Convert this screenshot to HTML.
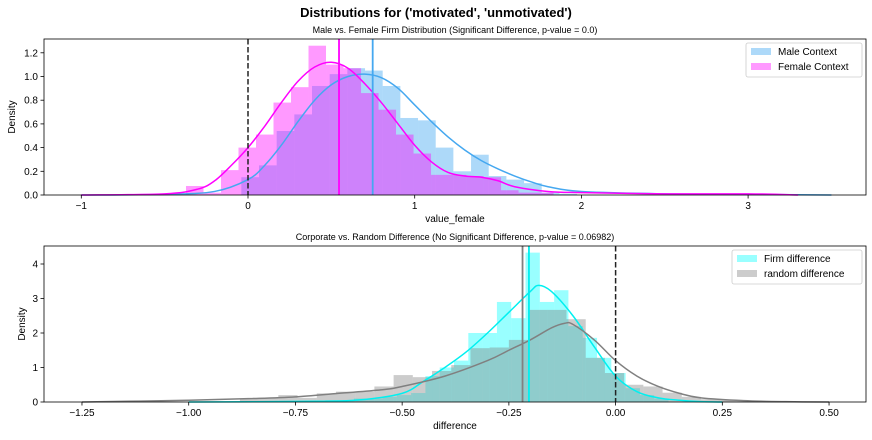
<!DOCTYPE html>
<html><head><meta charset="utf-8"><style>
body{margin:0;background:#fff;}
svg{display:block;font-family:"Liberation Sans","DejaVu Sans",sans-serif;}
</style></head><body>
<svg id="c" width="872" height="440" viewBox="0 0 872 440">
<text x="436" y="17" text-anchor="middle" font-size="13" font-weight="bold">Distributions for ('motivated', 'unmotivated')</text>
<text x="455" y="33" text-anchor="middle" font-size="9">Male vs. Female Firm Distribution (Significant Difference, p-value = 0.0)</text>
<text x="455" y="240" text-anchor="middle" font-size="9">Corporate vs. Random Difference (No Significant Difference, p-value = 0.06982)</text>
<g id="top"></g>
<g id="bot"></g>
</svg>
<script>
// ---- top chart data ----
const maleStart = -0.04, maleW = 0.106;
const maleBins = [0.15,0.25,0.54,0.68,0.92,1.02,1.07,1.05,0.92,0.65,0.63,0.40,0.20,0.34,0.16,0.13,0.10,0.02,0.01];
const femStart = -0.372, femW = 0.105;
const femBins = [0.076,0.02,0.21,0.40,0.51,0.78,0.91,1.26,1.10,1.07,0.86,0.72,0.51,0.35,0.17,0.17,0.16,0.15,0.04,0.02,0.02];
const maleKdeX = [-1,-0.5,-0.2,0,0.1,0.2,0.3,0.4,0.5,0.6,0.7,0.8,0.9,1.0,1.1,1.2,1.3,1.4,1.5,1.6,1.7,1.8,2.0,2.5,3.0,3.5];
const maleKdeY = [0,0.005,0.03,0.13,0.25,0.42,0.62,0.80,0.93,1.00,1.02,0.99,0.90,0.76,0.62,0.49,0.38,0.29,0.22,0.16,0.11,0.07,0.03,0.01,0.005,0];
const femKdeX = [-1,-0.5,-0.3,-0.2,-0.1,0,0.1,0.2,0.3,0.4,0.5,0.6,0.7,0.8,0.9,1.0,1.1,1.2,1.3,1.4,1.5,1.6,1.8,2.0,2.5,3.0,3.3];
const femKdeY = [0,0.01,0.05,0.12,0.25,0.40,0.58,0.78,0.96,1.08,1.12,1.07,0.94,0.78,0.60,0.42,0.28,0.19,0.16,0.15,0.12,0.07,0.03,0.02,0.01,0.01,0];
const maleMean = 0.748, femMean = 0.546;
const topXTicks = [-1,0,1,2,3];
const topYTicks = [0,0.2,0.4,0.6,0.8,1.0,1.2];
// ---- bottom chart data ----
const firmStart = -0.68, firmW = 0.0335;
const firmBins = [0.05,0.05,0.1,0.1,0.15,0.2,0.26,0.75,1.0,1.2,2.0,2.0,2.9,2.43,4.33,2.9,3.24,2.2,1.86,1.28,0.84,0.4,0.2,0.1];
const randStart = -0.88, randW = 0.045;
const randBins = [0.1,0.12,0.2,0.12,0.25,0.3,0.3,0.45,0.78,0.72,0.9,1.07,1.56,1.58,1.8,2.67,2.67,2.4,1.28,0.84,0.5,0.45,0.27,0.15,0.08,0.05,0.04];
const firmKdeX = [-1.0,-0.7,-0.6,-0.5,-0.45,-0.4,-0.35,-0.3,-0.25,-0.2,-0.18,-0.15,-0.1,-0.05,0,0.05,0.1,0.15,0.2,0.25];
const firmKdeY = [0,0.02,0.06,0.25,0.6,1.0,1.45,2.0,2.6,3.2,3.38,3.2,2.5,1.6,0.75,0.3,0.12,0.05,0.01,0];
const randKdeX = [-1.25,-1.0,-0.85,-0.75,-0.65,-0.55,-0.5,-0.4,-0.3,-0.25,-0.2,-0.15,-0.12,-0.1,-0.05,0,0.05,0.1,0.15,0.2,0.3,0.4,0.5];
const randKdeY = [0,0.05,0.1,0.15,0.25,0.35,0.45,0.75,1.2,1.5,1.8,2.15,2.28,2.25,1.8,1.2,0.75,0.45,0.25,0.12,0.04,0.01,0];
const firmMean = -0.203, randMean = -0.218;
const botXTicks = [-1.25,-1.0,-0.75,-0.5,-0.25,0,0.25,0.5];
const botYTicks = [0,1,2,3,4];

const NS="http://www.w3.org/2000/svg";
function mk(parent,tag,attrs){const e=document.createElementNS(NS,tag);for(const k in attrs)e.setAttribute(k,attrs[k]);parent.appendChild(e);return e;}
function fmt(v,d){const s=Math.abs(v).toFixed(d);return (v<0?"\u2212":"")+s;}
function smooth(pts){
  let d='M'+pts[0][0]+','+pts[0][1];
  for(let i=0;i<pts.length-1;i++){
    const p0=pts[Math.max(0,i-1)],p1=pts[i],p2=pts[i+1],p3=pts[Math.min(pts.length-1,i+2)];
    const c1x=p1[0]+(p2[0]-p0[0])/6,c1y=p1[1]+(p2[1]-p0[1])/6;
    const c2x=p2[0]-(p3[0]-p1[0])/6,c2y=p2[1]-(p3[1]-p1[1])/6;
    d+=` C${c1x},${c1y} ${c2x},${c2y} ${p2[0]},${p2[1]}`;
  }
  return d;
}

function panel(g,cfg){
  const L=44,R=866,T=cfg.top,B=cfg.bottom;
  const sx=v=>cfg.x0px+(v-cfg.x0)*cfg.kx;
  const sy=v=>B-v*cfg.ky;
  function hist(start,w,bins,fill,name){
    bins.forEach((v,i)=>{
      const r=mk(g,'rect',{x:sx(start+i*w),y:sy(v),width:w*cfg.kx,height:v*cfg.ky,fill:fill,'fill-opacity':0.4});
      
      
    });
  }
  function kde(xs,ys,col,name){
    const p=mk(g,'path',{d:smooth(xs.map((x,i)=>[sx(x),sy(ys[i])])),fill:'none',stroke:col,'stroke-width':1.5});
    
    
  }
  cfg.series.forEach(s=>hist(s.start,s.w,s.bins,s.color,s.name));
  cfg.series.forEach(s=>kde(s.kx,s.ky,s.line,s.name));
  cfg.series.forEach(s=>{
    const l=mk(g,'line',{x1:sx(s.mean),x2:sx(s.mean),y1:T,y2:B,stroke:s.line,'stroke-width':1.8});
    
    
  });
  const z=mk(g,'line',{x1:sx(0),x2:sx(0),y1:T,y2:B,stroke:'#222','stroke-width':1.5,'stroke-dasharray':'5.5,2.5'});
  
  
  const fr=mk(g,'rect',{x:L,y:T,width:R-L,height:B-T,fill:'none',stroke:'#000','stroke-width':0.8});
  
  
  cfg.xt.forEach(v=>{
    const x=sx(v);
    mk(g,'line',{x1:x,x2:x,y1:B,y2:B+3.5,stroke:'#000','stroke-width':0.8});
    const t=mk(g,'text',{x:x,y:B+14,'text-anchor':'middle','font-size':10});
    t.textContent=fmt(v,cfg.xd);
    
    
  });
  cfg.yt.forEach(v=>{
    const y=sy(v);
    mk(g,'line',{x1:L-3.5,x2:L,y1:y,y2:y,stroke:'#000','stroke-width':0.8});
    const t=mk(g,'text',{x:L-6,y:y+3.5,'text-anchor':'end','font-size':10});
    t.textContent=fmt(v,cfg.yd);
    
    
  });
  const xl=mk(g,'text',{x:(L+R)/2,y:B+27,'text-anchor':'middle','font-size':10});
  xl.textContent=cfg.xlabel;
  
  
  const yl=mk(g,'text',{x:0,y:0,'text-anchor':'middle','font-size':10,transform:`translate(${cfg.ylx},${(T+B)/2}) rotate(-90)`});
  yl.textContent='Density';
  
  
  const lg=mk(g,'g',{});
  
  
  mk(lg,'rect',{x:cfg.lgx,y:T+4,width:R-4-cfg.lgx,height:34,rx:2,fill:'#fff','fill-opacity':0.8,stroke:'#ccc','stroke-width':0.8});
  cfg.series.forEach((s,i)=>{
    const e=mk(lg,'g',{});
    
    
    mk(e,'rect',{x:cfg.lgx+5,y:T+9+i*15,width:20,height:7,fill:s.color,'fill-opacity':0.4});
    const t=mk(e,'text',{x:cfg.lgx+32,y:T+16+i*15,'font-size':10});
    t.textContent=s.label;
  });
}
panel(document.getElementById('top'),{top:39,bottom:195,x0:0,x0px:248,kx:166.7,ky:118.5,xt:topXTicks,yt:topYTicks,xd:0,yd:1,xlabel:'value_female',ylx:15,lgx:746,
  series:[{name:'male',label:'Male Context',start:maleStart,w:maleW,bins:maleBins,color:'#33a0f0',line:'#45a8f0',kx:maleKdeX,ky:maleKdeY,mean:maleMean},
          {name:'female',label:'Female Context',start:femStart,w:femW,bins:femBins,color:'#ff00ff',line:'#ff00ff',kx:femKdeX,ky:femKdeY,mean:femMean}]});
panel(document.getElementById('bot'),{top:246,bottom:402,x0:0,x0px:615.6,kx:426.9,ky:34.5,xt:botXTicks,yt:botYTicks,xd:2,yd:0,xlabel:'difference',ylx:25,lgx:732,
  series:[{name:'firm',label:'Firm difference',start:firmStart,w:firmW,bins:firmBins,color:'#00ffff',line:'#00f0f0',kx:firmKdeX,ky:firmKdeY,mean:firmMean},
          {name:'random',label:'random difference',start:randStart,w:randW,bins:randBins,color:'#808080',line:'#808080',kx:randKdeX,ky:randKdeY,mean:randMean}]});
</script>
</body></html>
